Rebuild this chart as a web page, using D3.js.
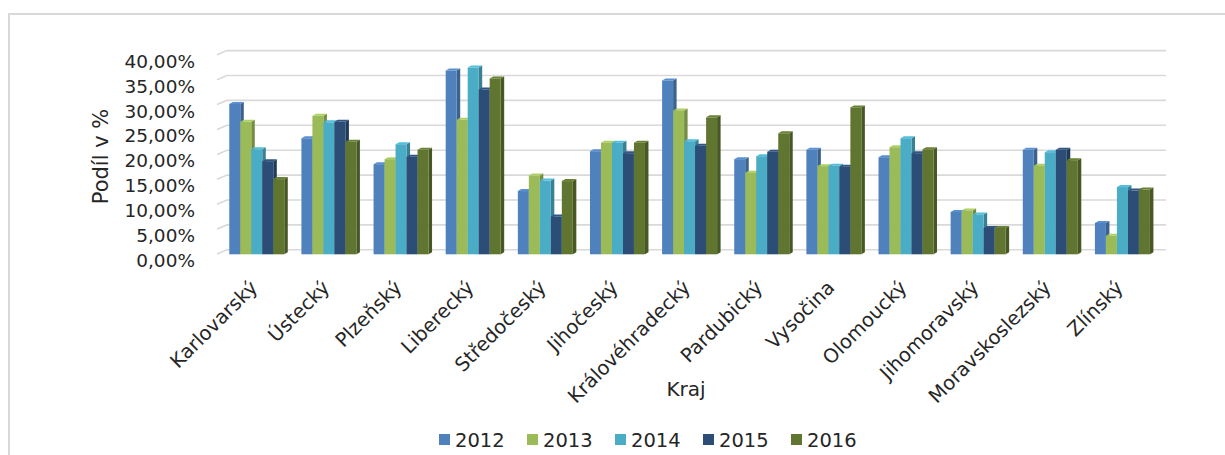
<!DOCTYPE html>
<html><head><meta charset="utf-8">
<script src="https://cdn.jsdelivr.net/npm/d3@7"></script>
<style>body{margin:0;background:#fff}svg{display:block}</style>
</head><body>
<script>
const categories = ["Karlovarský","Ústecký","Plzeňský","Liberecký","Středočeský","Jihočeský","Královéhradecký","Pardubický","Vysočina","Olomoucký","Jihomoravský","Moravskoslezský","Zlínský"];
const years = ["2012","2013","2014","2015","2016"];
const v2012 = [30.2, 23.3, 18.1, 36.9, 12.7, 20.7, 34.9, 19.1, 21.0, 19.5, 8.5, 21.0, 6.3];
const v2013 = [26.6, 27.8, 19.1, 27.0, 15.8, 22.4, 28.9, 16.4, 17.7, 21.5, 8.8, 17.8, 3.7];
const v2014 = [21.1, 26.5, 22.1, 37.5, 14.8, 22.4, 22.7, 19.7, 17.8, 23.3, 8.0, 20.5, 13.5];
const v2015 = [18.7, 26.6, 19.6, 33.1, 7.6, 20.3, 21.8, 20.6, 17.6, 20.3, 5.3, 21.0, 12.8];
const v2016 = [15.1, 22.6, 21.0, 35.3, 14.7, 22.4, 27.5, 24.3, 29.5, 21.1, 5.3, 18.9, 13.0];
const yTicks = [0,5,10,15,20,25,30,35,40];
const colors = ["#4f81bd","#9bbb59","#4bacc6","#2c4d75","#5f7530"];
const series = [v2012, v2013, v2014, v2015, v2016];

const W = 1225, H = 455;
const svg = d3.select("body").append("svg").attr("width", W).attr("height", H);
const font = "DejaVu Sans";

// chart border
svg.append("rect").attr("x", 9).attr("y", 14).attr("width", 1240).attr("height", 460)
  .attr("fill", "none").attr("stroke", "#d9d9d9").attr("stroke-width", 2);

const y = d3.scaleLinear().domain([0, 40]).range([254.3, 254.3 - 40 * 4.98]);
const x = d3.scaleBand().domain(categories).range([220.7, 1158.5]).paddingInner(0.2376).paddingOuter(0.119);
const xs = d3.scaleBand().domain(years).range([0, x.bandwidth()]);

// back-wall gridlines with side-wall diagonal
const gBack = 4.5, wallX0 = 227, wallX1 = 1166, diagDx = 10, diagDy = 4.2;
const grid = svg.append("g");
yTicks.forEach(t => {
  const yy = y(t) - gBack;
  grid.append("path")
    .attr("d", `M${wallX0 - diagDx},${yy + diagDy}L${wallX0},${yy}L${wallX1},${yy}`)
    .attr("fill", "none").attr("stroke", "#d9d9d9").attr("stroke-width", 1.6);
});

// y tick labels
const yAxis = d3.axisLeft(y).tickValues(yTicks).tickSize(0)
  .tickFormat(d => d3.format(".2f")(d).replace(".", ",") + "%");
const ya = svg.append("g").attr("transform", "translate(195,5.5)").call(yAxis);
ya.select(".domain").remove();
ya.selectAll("text").attr("font-family", font).attr("font-size", 18.5).attr("fill", "#262626").attr("x", 0).attr("dy", "0.36em");

// 3D bars
const dx = 3.5, dy = -2;
const bars = svg.append("g");
categories.forEach((c, ci) => {
  series.forEach((s, si) => {
    const v = s[ci];
    const x0 = x(c) + xs(years[si]), w = xs.bandwidth();
    const yt = y(v), yb = y(0);
    const col = d3.color(colors[si]);
    const g = bars.append("g");
    g.append("path")
      .attr("d", `M${x0 + w},${yt}L${x0 + w + dx},${yt + dy}L${x0 + w + dx},${yb + dy}L${x0 + w},${yb}Z`)
      .attr("fill", col.darker(0.8));
    g.append("path")
      .attr("d", `M${x0},${yt}L${x0 + dx},${yt + dy}L${x0 + w + dx},${yt + dy}L${x0 + w},${yt}Z`)
      .attr("fill", col.brighter(0.3));
    g.append("rect").attr("x", x0).attr("y", yt).attr("width", w).attr("height", yb - yt).attr("fill", col);
  });
});

// category labels
const xAxis = d3.axisBottom(x).tickSize(0);
const xa = svg.append("g").call(xAxis);
xa.select(".domain").remove();
xa.selectAll(".tick").attr("transform", d => `translate(${x(d) + x.bandwidth() / 2 - 3},284)`);
xa.selectAll("text").attr("font-family", font).attr("font-size", 19.5).attr("fill", "#262626")
  .attr("text-anchor", "end").attr("x", 0).attr("y", 0).attr("dy", "0.35em").attr("transform", "rotate(-45)");

// axis titles
svg.append("text").attr("x", 686).attr("y", 396).attr("text-anchor", "middle")
  .attr("font-family", font).attr("font-size", 20).attr("fill", "#262626").text("Kraj");
svg.append("text").attr("transform", "translate(108,156.5) rotate(-90)").attr("text-anchor", "middle")
  .attr("font-family", font).attr("font-size", 21).attr("fill", "#262626").text("Podíl v %");

// legend
const leg = svg.append("g");
years.forEach((yr, i) => {
  const lx = 439 + i * 88;
  leg.append("rect").attr("x", lx).attr("y", 434).attr("width", 11).attr("height", 11).attr("fill", colors[i]);
  leg.append("text").attr("x", lx + 16).attr("y", 446.5).attr("font-family", font).attr("font-size", 19.5)
    .attr("fill", "#262626").text(yr);
});
</script>
</body></html>
